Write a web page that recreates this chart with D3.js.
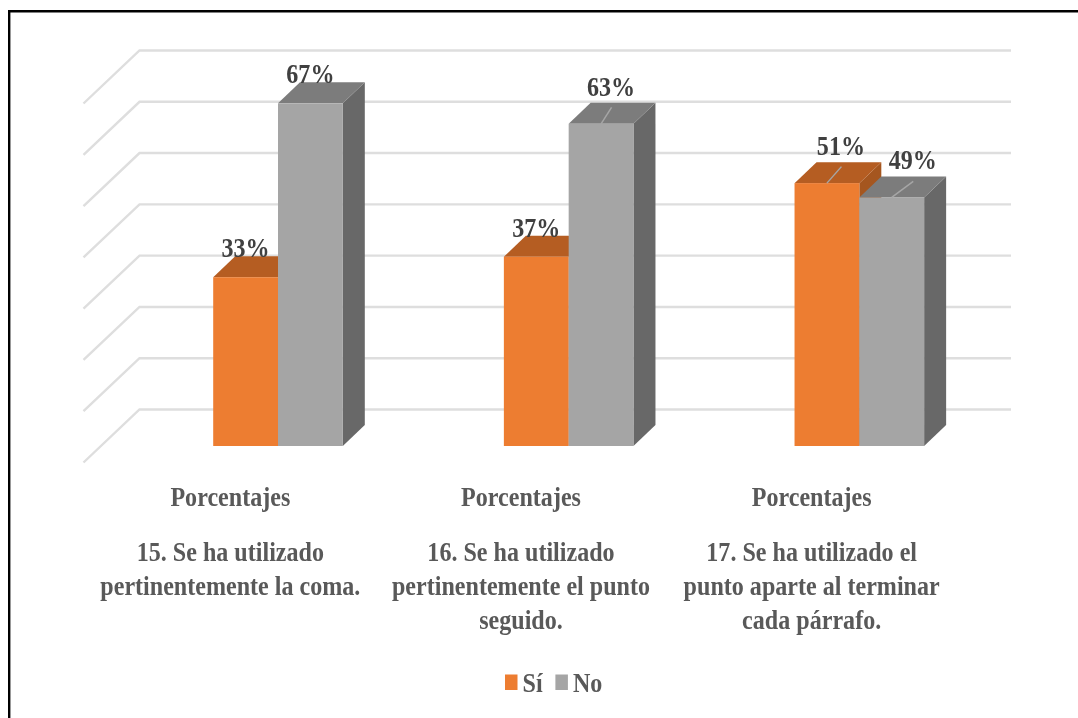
<!DOCTYPE html>
<html>
<head>
<meta charset="utf-8">
<script src="https://cdn.jsdelivr.net/npm/d3@7"></script>
<style>
  html, body { margin: 0; background: #fff; }
  svg { display: block; filter: blur(0.45px); }
  text { font-family: "Liberation Serif", serif; font-weight: bold; }
</style>
</head>
<body>
<div id="chart"></div>
<script>
const categories = ['15', '16', '17']
const questions = [
  ['15. Se ha utilizado', 'pertinentemente la coma.'],
  ['16. Se ha utilizado', 'pertinentemente el punto', 'seguido.'],
  ['17. Se ha utilizado el', 'punto aparte al terminar', 'cada párrafo.']
]
const seriesNames = ['Sí', 'No']
const si = [33, 37, 51.4]              // labels show these rounded
const no = [67, 63, 48.6]
const gridTicks = [0, 10, 20, 30, 40, 50, 60, 70]

const WIDTH = 1078, HEIGHT = 718
const WALL = { dx: 56, dy: 53 }        // depth of the side wall
const BAR = { dx: 22, dy: 21 }         // depth of one bar
const COLORS = {
  'Sí': { front: '#ed7d31', top: '#b55d22', side: '#a5561f' },
  'No': { front: '#a5a5a5', top: '#7c7c7c', side: '#686868' }
}
const FONT = 28, SQUEEZE = 0.86        // source picture is narrowed horizontally

// labels that were dragged off their bar get a little leader line
const moved = {
  'No-16': { lx: 10.5, ly: -16.5, tx: 10, ty: -28 },
  'Sí-17': { lx: 14.5, ly: -16.5, tx: 14, ty: -28 },
  'No-17': { lx: 21.5, ly: -16, tx: 21, ty: -28 }
}

const svg = d3.select('#chart').append('svg')
  .attr('width', WIDTH).attr('height', HEIGHT)

// scales
const yBack = d3.scaleLinear().domain([0, 70]).range([409.5, 50.5])
const yFront = d3.scaleLinear().domain([0, 70]).range([446, 88])
const xBars = d3.scaleBand().domain(categories).range([132.6, 1004.6])
const xLabels = d3.scaleBand().domain(categories).range([85, 957])
const xSeries = d3.scaleBand().domain(seriesNames).range([80.6, 210.2])   // inside one category band

const line = d3.line()
const poly = (pts) => line(pts) + 'Z'

// frame: only top and left edges show in the picture
svg.append('path')
  .attr('d', line([[9.2, HEIGHT], [9.2, 11.2], [WIDTH, 11.2]]))
  .attr('fill', 'none').attr('stroke', '#000').attr('stroke-width', 2.4)

// grid
svg.append('g').selectAll('path').data(gridTicks).join('path')
  .attr('d', (t) => line([
    [83.5, yBack(t) + WALL.dy],
    [83.5 + WALL.dx, yBack(t)],
    [1011, yBack(t)]
  ]))
  .attr('fill', 'none').attr('stroke', '#dedede').attr('stroke-width', 2.4)

// bars
const rows = []
seriesNames.forEach((name, s) => {
  categories.forEach((c, i) => {
    rows.push({ key: name + '-' + c, name, c, value: (s === 0 ? si : no)[i] })
  })
})

const bars = svg.append('g').selectAll('g').data(rows).join('g')
  .each(function(d) {
    const g = d3.select(this)
    const x0 = xBars(d.c) + xSeries(d.name)
    const x1 = x0 + xSeries.bandwidth()
    const y0 = yFront(0), y1 = yFront(d.value)
    const col = COLORS[d.name]
    g.append('path').attr('fill', col.side)
      .attr('d', poly([[x1, y0], [x1 + BAR.dx, y0 - BAR.dy], [x1 + BAR.dx, y1 - BAR.dy], [x1, y1]]))
    g.append('path').attr('fill', col.top)
      .attr('d', poly([[x0, y1], [x0 + BAR.dx, y1 - BAR.dy], [x1 + BAR.dx, y1 - BAR.dy], [x1, y1]]))
    g.append('rect').attr('fill', col.front)
      .attr('x', x0).attr('y', y1).attr('width', x1 - x0).attr('height', y0 - y1)
    const m = moved[d.key]
    if(m) {
      const xc = (x0 + x1) / 2
      g.append('path').attr('fill', 'none').attr('stroke', '#a6a6a6').attr('stroke-width', 1.5)
        .attr('d', line([[xc, y1], [xc + m.lx, y1 + m.ly]]))
    }
  })

// value labels
svg.append('g').selectAll('text').data(rows).join('text')
  .attr('transform', (d) => {
    const m = moved[d.key] || { tx: 0, ty: -20 }
    const xc = xBars(d.c) + xSeries(d.name) + xSeries.bandwidth() / 2
    return 'translate(' + [xc + m.tx, yFront(d.value) + m.ty] + ') scale(' + SQUEEZE + ',1)'
  })
  .attr('text-anchor', 'middle').attr('font-size', FONT).attr('fill', '#404040')
  .text((d) => Math.round(d.value) + '%')

// category labels
const labels = svg.append('g').attr('font-size', FONT).attr('fill', '#595959').attr('text-anchor', 'middle')
categories.forEach((c, i) => {
  const xc = xLabels(c) + xLabels.bandwidth() / 2
  const put = (str, y) => labels.append('text')
    .attr('transform', 'translate(' + [xc, y] + ') scale(' + SQUEEZE + ',1)')
    .text(str)
  put('Porcentajes', 506)
  questions[i].forEach((str, j) => put(str, 561 + j * 34))
})

// legend
const legendX = [505, 555.4]
const legend = svg.append('g').selectAll('g').data(seriesNames).join('g')
  .attr('transform', (d, i) => 'translate(' + [legendX[i], 674.5] + ')')
legend.append('rect').attr('width', 12.5).attr('height', 15.5)
  .attr('fill', (d) => COLORS[d].front)
legend.append('text')
  .attr('transform', 'translate(17.5,17) scale(' + SQUEEZE + ',1)')
  .attr('font-size', FONT).attr('fill', '#595959')
  .text((d) => d)
</script>
</body>
</html>
